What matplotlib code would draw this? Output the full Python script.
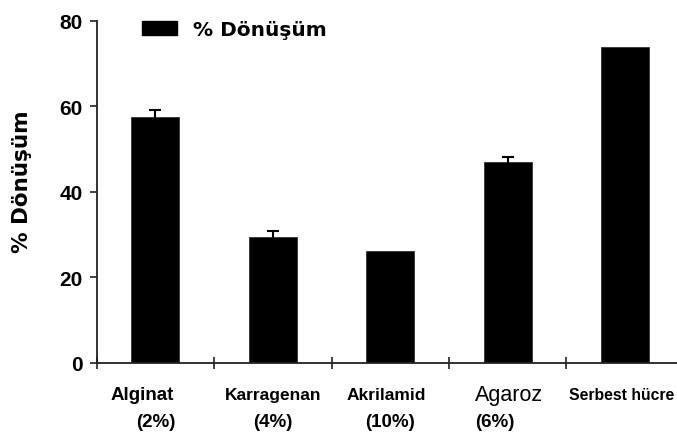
import matplotlib
matplotlib.use('Agg')
import matplotlib.pyplot as plt
import matplotlib.transforms as mtransforms
from matplotlib.patches import Patch


categories = ['Alginat', 'Karragenan', 'Akrilamid', 'Agaroz', 'Serbest hücre']
percents = ['(2%)', '(4%)', '(10%)', '(6%)', '']
values = [57.5, 29.4, 26.1, 46.9, 73.8]
errors = [1.6, 1.4, 0.0, 1.2, 0.0]
series_name = '% Dönüşüm'
yticks = [0, 20, 40, 60, 80]

# label placement tweaks (shift in category units, font, size, weight)
name_shift = [-0.11, 0.0, -0.03, 0.01, -0.03]
name_font = [('Liberation Sans', 13.5, 'bold'),
             ('Liberation Sans', 12.5, 'bold'),
             ('Liberation Sans', 12.5, 'bold'),
             ('Liberation Sans', 15.5, 'normal'),
             ('Liberation Sans', 11.3, 'bold')]
pct_shift = [0.0, 0.0, 0.0, -0.11, 0.0]

fig = plt.figure(figsize=(6.77, 4.39), dpi=100)
ax = fig.add_axes([96.7/677, 75.3/439, 5*117.4/677, 342/439])

xs = list(range(len(categories)))
ax.bar(xs, values, width=0.41, color='black', edgecolor='#333333', lw=0.6)

# only bars with a visible error bar
ex = [x for x, e in zip(xs, errors) if e > 0]
ev = [v for v, e in zip(values, errors) if e > 0]
ee = [e for e in errors if e > 0]
ax.errorbar(ex, ev, yerr=ee, fmt='none', ecolor='black',
            elinewidth=1.5, capsize=4, capthick=1.5)

ax.set_xlim(-0.5, 4.5)
ax.set_ylim(0, 80)
ax.spines['top'].set_visible(False)
ax.spines['right'].set_visible(False)
for sp in ['left', 'bottom']:
    ax.spines[sp].set_linewidth(1.3)
    ax.spines[sp].set_color('#222222')

ax.set_xticks([x - 0.5 for x in xs] + [4.5])
ax.set_xticklabels([])
ax.tick_params(axis='x', direction='inout', length=9, width=1.2, color='#222222')
ax.set_yticks(yticks)
ax.set_yticklabels([str(t) for t in yticks], fontfamily='Liberation Sans',
                   fontweight='bold', fontsize=15)
ax.tick_params(axis='y', direction='out', length=5, width=1.2, pad=5,
               color='#222222')

trans = mtransforms.blended_transform_factory(ax.transData, fig.transFigure)
for i, name in enumerate(categories):
    fam, size, weight = name_font[i]
    ax.text(xs[i] + name_shift[i], 1 - 396/439, name, transform=trans,
            ha='center', va='center', fontfamily=fam, fontsize=size,
            fontweight=weight)
    if percents[i]:
        ax.text(xs[i] + pct_shift[i], 1 - 423/439, percents[i], transform=trans,
                ha='center', va='center', fontfamily='Liberation Sans',
                fontsize=13.5, fontweight='bold')

fig.text(22/677, 1 - 182/439, series_name, rotation=90, ha='center',
         va='center', fontfamily='DejaVu Sans', fontweight='bold', fontsize=15.5)

leg = ax.legend(handles=[Patch(facecolor='black', edgecolor='black')],
                labels=[series_name], loc='upper left',
                bbox_to_anchor=(132/677, 1 - 11/439),
                bbox_transform=fig.transFigure, frameon=False,
                borderpad=0, handlelength=1.75, handleheight=0.65,
                handletextpad=0.8,
                prop={'family': 'DejaVu Sans', 'weight': 'bold', 'size': 14.5})

fig.savefig('out.png', dpi=100)
